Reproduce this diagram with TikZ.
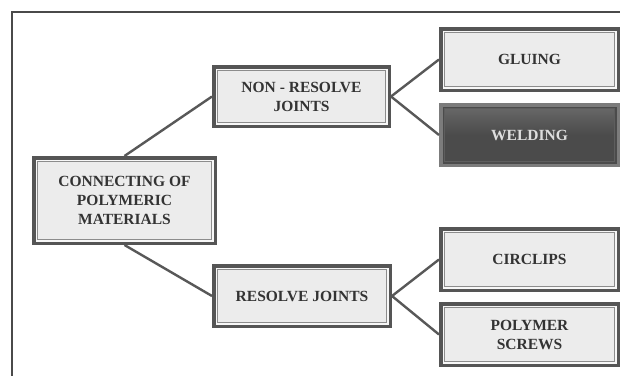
\documentclass[tikz,border=0pt]{standalone}
\usepackage{fontspec}
\setmainfont{Liberation Serif}
\definecolor{bord}{HTML}{555555}
\definecolor{gapcol}{HTML}{F7F7F7}
\definecolor{boxfill}{HTML}{ECECEC}
\definecolor{innerline}{HTML}{8C8C8C}
\definecolor{txt}{HTML}{333333}
\definecolor{wfill}{HTML}{4B4B4B}
\definecolor{wtop}{HTML}{6A6A6A}
\definecolor{wbord}{HTML}{7C7C7C}
\definecolor{winner}{HTML}{5E5E5E}
\definecolor{wtxt}{HTML}{DEDEDE}
\definecolor{link}{HTML}{585858}
\definecolor{framecol}{HTML}{4A4A4A}
\tikzset{
  box/.style={draw=bord, line width=3.5pt, fill=gapcol, text=txt, align=center,
    font=\fontsize{15.5}{19}\selectfont\bfseries, inner sep=0pt,
    path picture={\draw[innerline, line width=1.1pt, fill=boxfill]
      ([shift={(3.6pt,-3.6pt)}]path picture bounding box.north west) rectangle
      ([shift={(-3.6pt,3.6pt)}]path picture bounding box.south east);}},
  darkbox/.style={draw=wbord, line width=3.5pt, fill=wfill, text=wtxt, align=center,
    font=\fontsize{15.5}{19}\selectfont\bfseries, inner sep=0pt,
    path picture={\draw[winner, line width=1.1pt, top color=wtop, bottom color=wfill, middle color=wfill]
      ([shift={(3.6pt,-3.6pt)}]path picture bounding box.north west) rectangle
      ([shift={(-3.6pt,3.6pt)}]path picture bounding box.south east);}},
  link/.style={draw=link, line width=2.4pt},
  framestyle/.style={draw=framecol, line width=1.2pt}
}
\begin{document}
\begin{tikzpicture}[x=1pt,y=-1pt]
\useasboundingbox (0,0) rectangle (620,375);
\fill[white] (0,0) rectangle (620,375);
\draw[framestyle] (12,380) -- (12,12) -- (630,12);

\node[box, minimum width=181.5pt, minimum height=85.5pt] (conn) at (124.5,200.5)
  {CONNECTING OF\\POLYMERIC\\MATERIALS};
\node[box, minimum width=175.5pt, minimum height=59.5pt] (nonres) at (301.5,96.5)
  {NON - RESOLVE\\JOINTS};
\node[box, minimum width=176.5pt, minimum height=60.5pt] (res) at (302,296)
  {RESOLVE JOINTS};
\node[box, minimum width=177.5pt, minimum height=61.5pt] (glue) at (529.5,59.5)
  {GLUING};
\node[darkbox, minimum width=177.5pt, minimum height=60.5pt] (weld) at (529.5,135)
  {WELDING};
\node[box, minimum width=177.5pt, minimum height=61.5pt] (circ) at (529.5,259.5)
  {CIRCLIPS};
\node[box, minimum width=177.5pt, minimum height=61.5pt] (screw) at (529.5,334.5)
  {POLYMER\\SCREWS};

\draw[link] (conn.north) -- (nonres.west);
\draw[link] (conn.south) -- (res.west);
\draw[link] (nonres.east) -- (glue.west);
\draw[link] (nonres.east) -- (weld.west);
\draw[link] (res.east) -- (circ.west);
\draw[link] (res.east) -- (screw.west);
\end{tikzpicture}
\end{document}
